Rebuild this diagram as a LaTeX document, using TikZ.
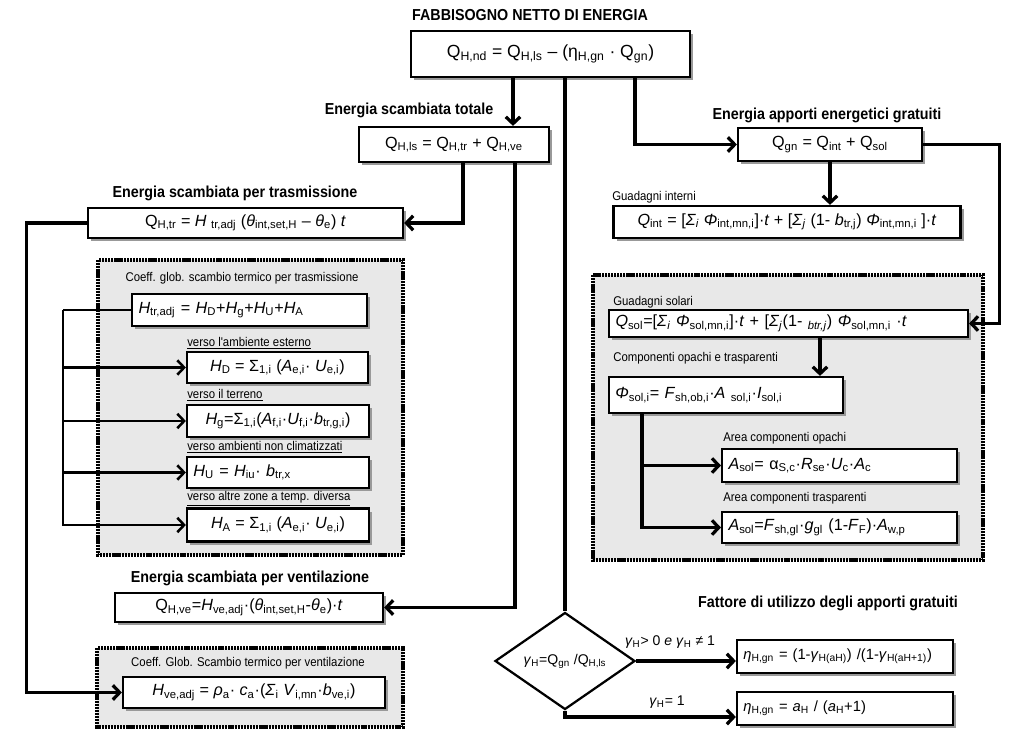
\documentclass[tikz,border=0pt]{standalone}
\usepackage{fontspec}
\setmainfont{Liberation Sans}
\newfontfamily\fuenteEstrecha[FakeStretch=0.9]{Liberation Sans}
\usetikzlibrary{arrows.meta, positioning, shapes.geometric, calc, shadows}
\definecolor{fondoGrupo}{HTML}{E8E8E8}
\colorlet{colLinea}{black}
\newcommand{\ix}[1]{\textsubscript{#1}}
\newcommand{\vi}[1]{\textit{#1}}
\tikzset{
  cajaBase/.style={
    draw=colLinea, line width=1.6pt, fill=white, inner sep=0pt,
    font=\fontsize{11.5}{13}\selectfont,
    drop shadow={shadow xshift=2.4pt, shadow yshift=-2.4pt, fill=black!40, opacity=1}
  },
  cajaIzq/.style={cajaBase, align=left, inner xsep=1.6mm},
  cajaEta/.style={cajaIzq, font=\fontsize{10.5}{12}\selectfont},
  titulo/.style={font=\fuenteEstrecha\bfseries\fontsize{11.3}{13}\selectfont, inner sep=0pt},
  nota/.style={font=\fuenteEstrecha\fontsize{9}{10}\selectfont, inner sep=0pt, anchor=west},
  etiquetaFlecha/.style={font=\fontsize{10}{12}\selectfont, inner sep=0pt},
  grupo/.style={draw=colLinea, line width=2.2pt, dash pattern=on 1.6pt off 0.6pt, fill=fondoGrupo},
  decision/.style={diamond, draw=colLinea, line width=1.6pt, fill=white, inner sep=0pt,
    minimum width=35mm, minimum height=14.5mm, font=\fontsize{10}{12}\selectfont},
  flecha/.style={-{Straight Barb[length=1.7mm, width=3.6mm]}, line width=2.3pt, colLinea},
  flechaFina/.style={flecha, line width=1.8pt},
  linea/.style={line width=2.3pt, colLinea},
}
\begin{document}
\begin{tikzpicture}[x=0.25mm, y=-0.25mm]
  \fill[white] (0,0) rectangle (1024,745);
  \useasboundingbox (0,0) rectangle (1024,745);

  % gruppi tratteggiati
  \draw[grupo] (98,260) rectangle (403,555);
  \draw[grupo] (97,648) rectangle (403,727);
  \draw[grupo] (593,275) rectangle (983,560);

  % fabbisogno netto
  \node[titulo] (tNetto) at (530,15) {FABBISOGNO NETTO DI ENERGIA};
  \node[cajaBase, minimum width=69.75mm, minimum height=11.5mm, font=\fontsize{12.5}{14}\selectfont]
    (qnd) at (550.5,54) {Q\ix{H,nd} = Q\ix{H,ls} – (η\ix{H,gn} · Q\ix{gn})};

  % energia scambiata
  \node[titulo] (tTotale) at (409,110) {Energia scambiata totale};
  \node[cajaBase, minimum width=47.5mm, minimum height=8.75mm]
    (qls) at (454,144.5) {Q\ix{H,ls} = Q\ix{H,tr} + Q\ix{H,ve}};

  \node[titulo] (tTrasm) at (235,193) {Energia scambiata per trasmissione};
  \node[cajaBase, minimum width=78.75mm, minimum height=7.5mm]
    (qtr) at (245.5,223) {Q\ix{H,tr} = \vi{H} \ix{tr,adj} (\vi{θ}\ix{int,set,H} – \vi{θ}\ix{e}) \vi{t}};

  \node[nota, anchor=center] (nCoeffTr) at (242,278) {Coeff. glob. scambio termico per trasmissione};
  \node[cajaIzq, text width=55.5mm, minimum height=8mm]
    (htr) at (249.5,310) {\vi{H}\ix{tr,adj} = \vi{H}\ix{D}+\vi{H}\ix{g}+\vi{H}\ix{U}+\vi{H}\ix{A}};
  \node[nota] (nEsterno) at (187,343) {\underline{verso l'ambiente esterno}};
  \node[cajaBase, minimum width=45.25mm, minimum height=7.75mm]
    (hd) at (277.5,367.5) {\vi{H}\ix{D} = Σ\ix{1,i} (\vi{A}\ix{e,i}· \vi{U}\ix{e,i})};
  \node[nota] (nTerreno) at (187,395) {\underline{verso il terreno}};
  \node[cajaBase, minimum width=45.5mm, minimum height=8mm]
    (hg) at (278,421) {\vi{H}\ix{g}=Σ\ix{1,i}(\vi{A}\ix{f,i}·\vi{U}\ix{f,i}·\vi{b}\ix{tr,g,i})};
  \node[nota] (nNonClim) at (187,447) {\underline{verso ambienti non climatizzati}};
  \node[cajaIzq, text width=42.3mm, minimum height=7.75mm]
    (hu) at (278,472.5) {\vi{H}\ix{U} = \vi{H}\ix{iu}· \vi{b}\ix{tr,x}};
  \node[nota] (nAltre) at (187,499) {\underline{verso altre zone a temp. diversa}};
  \node[cajaBase, minimum width=45.5mm, minimum height=8.25mm]
    (ha) at (278,525) {\vi{H}\ix{A} = Σ\ix{1,i} (\vi{A}\ix{e,i}· \vi{U}\ix{e,i})};

  \node[titulo] (tVentil) at (250,578) {Energia scambiata per ventilazione};
  \node[cajaBase, minimum width=67mm, minimum height=7.25mm]
    (qve) at (249,607.5) {Q\ix{H,ve}=\vi{H}\ix{ve,adj}·(\vi{θ}\ix{int,set,H}-\vi{θ}\ix{e})·\vi{t}};
  \node[nota, anchor=center] (nCoeffVe) at (248,663) {Coeff. Glob. Scambio termico per ventilazione};
  \node[cajaBase, minimum width=65.5mm, minimum height=7.75mm]
    (hve) at (254,692.5) {\vi{H}\ix{ve,adj} = \vi{ρ}\ix{a}· \vi{c}\ix{a}·(\vi{Σ}\ix{i} \vi{V}\ix{i,mn}·\vi{b}\ix{ve,i})};

  % apporti gratuiti
  \node[titulo] (tGratuiti) at (827,115) {Energia apporti energetici gratuiti};
  \node[cajaBase, minimum width=46mm, minimum height=8.25mm]
    (qgn) at (830,144.5) {Q\ix{gn} = Q\ix{int} + Q\ix{sol}};
  \node[nota] (nInterni) at (612,197) {Guadagni interni};
  \node[cajaBase, minimum width=86.75mm, minimum height=8mm]
    (qint) at (787,222) {\vi{Q}\ix{int} = [\vi{Σ}\ix{\vi{i}} \vi{Φ}\ix{int,mn,i}]·\vi{t} + [\vi{Σ}\ix{\vi{j}} (1- \vi{b}\ix{tr,j}) \vi{Φ}\ix{int,mn,i} ]·\vi{t}};

  \node[nota] (nSolari) at (613,302) {Guadagni solari};
  \node[cajaIzq, text width=86.5mm, minimum height=6.75mm]
    (qsol) at (788.5,323.5) {\vi{Q}\ix{sol}=[\vi{Σ}\ix{\vi{i}} \vi{Φ}\ix{sol,mn,i}]·\vi{t} + [\vi{Σ}\ix{\vi{j}}(1- \ix{\vi{btr,j}}) \vi{Φ}\ix{sol,mn,i} ·\vi{t}};
  \node[nota] (nComp) at (613,358) {Componenti opachi e trasparenti};
  \node[cajaIzq, text width=55.3mm, minimum height=9mm]
    (phi) at (726,395) {\vi{Φ}\ix{sol,i}= \vi{F}\ix{sh,ob,i}·\vi{A} \ix{sol,i}·\vi{I}\ix{sol,i}};
  \node[nota] (nOpachi) at (723,438) {Area componenti opachi};
  \node[cajaIzq, text width=55.5mm, minimum height=8.25mm]
    (aop) at (839.5,465.5) {\vi{A}\ix{sol}= α\ix{S,c}·\vi{R}\ix{se}·\vi{U}\ix{c}·\vi{A}\ix{c}};
  \node[nota] (nTrasp) at (723,498) {Area componenti trasparenti};
  \node[cajaIzq, text width=55.5mm, minimum height=7.75mm]
    (atr) at (839.5,527.5) {\vi{A}\ix{sol}=\vi{F}\ix{sh,gl}·\vi{g}\ix{gl} (1-\vi{F}\ix{F})·\vi{A}\ix{w,p}};

  % fattore di utilizzo
  \node[titulo] (tFattore) at (828,603) {Fattore di utilizzo degli apporti gratuiti};
  \node[decision] (dia) at (565,661) {\vi{γ}\ix{H}=Q\ix{gn} /Q\ix{H,ls}};
  \node[cajaEta, text width=50.8mm, minimum height=8.25mm]
    (eta1) at (845,656.5) {\vi{η}\ix{H,gn} = (1-\vi{γ}\ix{H(aH)}) /(1-\vi{γ}\ix{H(aH+1)})};
  \node[cajaEta, text width=50.8mm, minimum height=8.25mm]
    (eta2) at (845,708.5) {\vi{η}\ix{H,gn} = \vi{a}\ix{H} / (\vi{a}\ix{H}+1)};
  \node[etiquetaFlecha] (eSi) at (670,642) {\vi{γ}\ix{H}> 0 \vi{e} \vi{γ}\ix{H} ≠ 1};
  \node[etiquetaFlecha] (eUno) at (667,702) {\vi{γ}\ix{H}= 1};

  % collegamenti
  \coordinate (sNetto) at ($(qnd.south)+(-37.5,0)$);
  \coordinate (sGn) at ($(qnd.south)+(84.5,0)$);
  \coordinate (sTr) at ($(qls.south)+(9,0)$);
  \coordinate (sVe) at ($(qls.south)+(61,0)$);
  \coordinate (sSol) at ($(qsol.south)+(31.5,0)$);
  \coordinate (rama) at ($(phi.south west)+(34,0)$);

  \draw[flecha] (sNetto) -- (sNetto |- qls.north);
  \draw[linea] (dia.north |- qnd.south) -- (dia.north);
  \draw[flecha] (sGn) |- (qgn.west);
  \draw[flecha] (qgn.south) -- (qgn.south |- qint.north);
  \draw[flecha] (qgn.east) -- ++(76,0) |- (qsol.east);
  \draw[flecha] (sTr) |- (qtr.east);
  \draw[flecha] (sVe) |- (qve.east);
  \draw[flecha] (qtr.west) -- ++(-60,0) |- (hve.west);
  \draw[linea, line width=1.8pt] (htr.west) -- ++(-68,0) coordinate (bus);
  \foreach \n in {hd,hg,hu,ha}
    \draw[flechaFina] (bus) |- (\n.west);
  \draw[flecha] (sSol) -- (sSol |- phi.north);
  \foreach \n in {aop,atr}
    \draw[flecha] (rama) |- (\n.west);
  \draw[flecha] (dia.east) -- (dia.east -| eta1.west);
  \draw[flecha] (dia.south) |- ($(eta2.west)+(0,8.5)$);
\end{tikzpicture}
\end{document}
